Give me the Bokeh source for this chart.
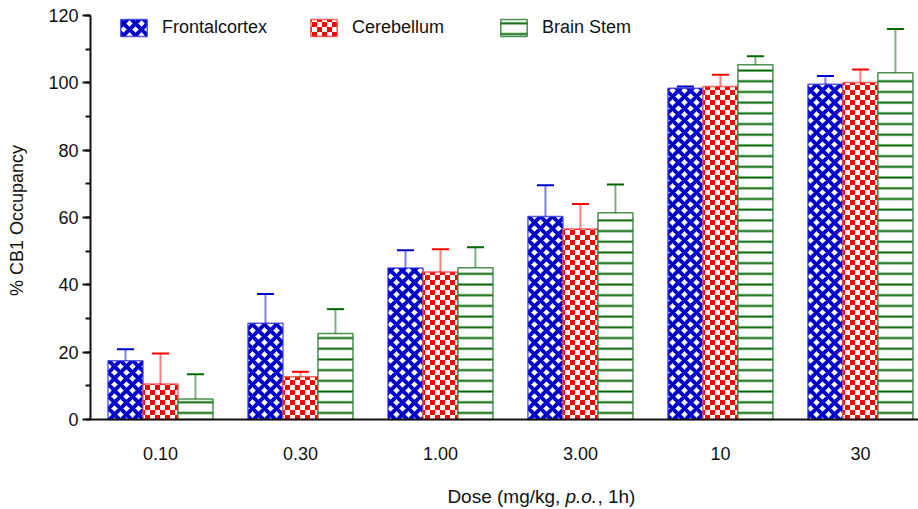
import zlib, struct, base64
import numpy as np
from bokeh.plotting import figure
from bokeh.models import (Range1d, SingleIntervalTicker, FixedTicker, ColumnDataSource,
                          Whisker, TeeHead, Legend, LegendItem, Label, ImageURLTexture)
from bokeh.core.properties import value
from bokeh.embed import file_html
from bokeh.resources import INLINE

# ---- data ----
doses = ["0.10", "0.30", "1.00", "3.00", "10", "30"]
series = ["Frontalcortex", "Cerebellum", "Brain Stem"]
frontal = [17.5, 28.6, 45.0, 60.3, 98.4, 99.6]
frontal_err = [3.4, 8.7, 5.3, 9.3, 0.5, 2.4]
cerebellum = [10.6, 12.7, 43.8, 56.6, 98.9, 100.1]
cerebellum_err = [9.0, 1.5, 6.8, 7.4, 3.5, 3.9]
brainstem = [6.1, 25.6, 45.1, 61.4, 105.4, 103.0]
brainstem_err = [7.4, 7.2, 6.1, 8.4, 2.5, 13.0]
x_title = ["Dose (mg/kg,", "p.o.", ", 1h)"]
y_title = "% CB1 Occupancy"

FONT = "Liberation Sans"
TXT = "#111111"


def checker_png(n=10):
    """Small red/white checkerboard tile as a PNG data URL."""
    h = n // 2
    rows = []
    for r in range(n):
        row = bytearray([0])
        for c in range(n):
            red = ((r // h) + (c // h)) % 2 == 0
            row += bytes((255, 0, 0) if red else (255, 255, 255))
        rows.append(bytes(row))
    raw = b"".join(rows)

    def chunk(t, d):
        return struct.pack(">I", len(d)) + t + d + struct.pack(">I", zlib.crc32(t + d) & 0xffffffff)

    png = (b"\x89PNG\r\n\x1a\n" + chunk(b"IHDR", struct.pack(">IIBBBBB", n, n, 8, 2, 0, 0, 0))
           + chunk(b"IDAT", zlib.compress(raw)) + chunk(b"IEND", b""))
    return "data:image/png;base64," + base64.b64encode(png).decode()


checker = ImageURLTexture(url=checker_png(10))

# frame covers the whole canvas; both axes are drawn at fixed data locations (x = 0, y = 0)
p = figure(width=918, height=509, output_backend="svg", toolbar_location=None,
           x_range=Range1d(-90 / 140, 5.915), y_range=Range1d(-26.7, 124.455),
           min_border_left=0, min_border_right=0, min_border_top=0, min_border_bottom=0,
           margin=(0, -8, -8, 0))
p.outline_line_color = None
p.xgrid.visible = False
p.ygrid.visible = False

centers = np.arange(len(doses)) + 0.5
width = 0.25
offsets = [-0.25, 0.0, 0.25]
vals = [frontal, cerebellum, brainstem]
errs = [frontal_err, cerebellum_err, brainstem_err]
styles = [
    dict(fill_color="white", line_color="#3333dd", line_alpha=0.8, line_width=1.5,
         hatch_pattern="diagonal_cross", hatch_color="#0000cc", hatch_weight=4, hatch_scale=12),
    dict(fill_color="white", line_color="#ff4040", line_alpha=0.8, line_width=1.5,
         hatch_pattern=value("checker"), hatch_extra={"checker": checker},
         hatch_color="#ff0000", hatch_scale=10),
    dict(fill_color="white", line_color="#2e7d32", line_alpha=0.85, line_width=1.5,
         hatch_pattern="horizontal_line", hatch_color="#006400", hatch_weight=2, hatch_scale=10.7),
]
whisk_colors = ["#0000cc", "#ff0000", "#006400"]
legend_x = [117, 307, 497]

for i, name in enumerate(series):
    x = centers + offsets[i]
    top = np.array(vals[i])
    src = ColumnDataSource(dict(x=x, top=top, upper=top + np.array(errs[i])))
    r = p.vbar(x="x", top="top", bottom=0, width=width, source=src, **styles[i])
    w = Whisker(source=src, base="x", lower="top", upper="upper", dimension="height",
                lower_head=None,
                upper_head=TeeHead(size=17, line_color=whisk_colors[i], line_width=2),
                line_color=whisk_colors[i], line_alpha=0.5, line_width=2, level="glyph")
    p.add_layout(w)
    leg = Legend(items=[LegendItem(label=name, renderers=[r])], orientation="horizontal",
                 location=(legend_x[i], 471),
                 border_line_color=None, background_fill_alpha=0, padding=0, margin=0,
                 label_standoff=12, glyph_width=33, glyph_height=21,
                 label_text_font=FONT, label_text_font_size="18px", label_text_color=TXT)
    p.add_layout(leg)

# y axis drawn at x = 0
ya = p.yaxis[0]
ya.fixed_location = 0
ya.bounds = (0, 120)
ya.ticker = SingleIntervalTicker(interval=20, num_minor_ticks=2)
ya.axis_line_width = 2
ya.axis_line_color = TXT
ya.major_tick_out = 8
ya.major_tick_in = 0
ya.minor_tick_out = 5
ya.minor_tick_in = 0
ya.major_tick_line_width = 2
ya.minor_tick_line_width = 2
ya.major_tick_line_color = TXT
ya.minor_tick_line_color = TXT
ya.major_label_standoff = 4
ya.major_label_text_font = FONT
ya.major_label_text_font_size = "18px"
ya.major_label_text_color = TXT

p.add_layout(Label(x=-73 / 140, y=59.1, text=y_title, angle=np.pi / 2,
                   text_font=FONT, text_font_size="18px", text_color=TXT,
                   text_align="center", text_baseline="middle"))

# x axis drawn at y = 0
xa = p.xaxis[0]
xa.fixed_location = 0
xa.bounds = (0, 5.915)
xa.ticker = FixedTicker(ticks=list(centers))
xa.major_label_overrides = {float(c): d for c, d in zip(centers, doses)}
xa.axis_line_width = 2
xa.axis_line_color = TXT
xa.major_tick_line_color = None
xa.minor_tick_line_color = None
xa.major_tick_out = 0
xa.major_tick_in = 0
xa.major_label_standoff = 27
xa.major_label_text_font = FONT
xa.major_label_text_font_size = "18px"
xa.major_label_text_color = TXT

# x-axis title in three pieces (italic "p.o.")
styles_t = ["normal", "italic", "normal"]
offs = [-94, 24, 56]
for txt, style, off in zip(x_title, styles_t, offs):
    p.add_layout(Label(x=3.221, y=-22.9, x_offset=off, text=txt,
                       text_font=FONT, text_font_size="19px", text_font_style=style,
                       text_color=TXT, text_baseline="middle", text_align="left"))

open("out.html", "w").write(file_html(p, INLINE))
